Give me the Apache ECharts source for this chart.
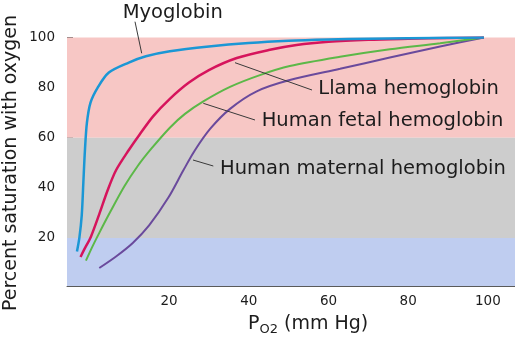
<!DOCTYPE html>
<html>
<head>
<meta charset="utf-8">
<script src="https://cdn.jsdelivr.net/npm/echarts@6/dist/echarts.min.js"></script>
<style>
  html, body { margin: 0; padding: 0; background: #ffffff; }
  #chart { width: 515px; height: 342px; }
</style>
</head>
<body>
<div id="chart"></div>
<script>
// Oxygen dissociation curves: [PO2 (mm Hg), percent saturation]
const xTickValues = [20, 40, 60, 80, 100];
const yTickValues = [20, 40, 60, 80, 100];

const myoglobin = [
  [-3.1, 14.6], [-2.5, 20], [-1.9, 29], [-1.5, 42], [-1.1, 55], [-0.6, 66],
  [0.3, 74], [2.1, 80], [4.9, 86], [9.9, 90], [14.2, 92.5], [20.2, 94.5],
  [30, 96.4], [40, 97.8], [50, 98.7], [60, 99.2], [70, 99.5], [80, 99.7],
  [90, 99.9], [99, 100]
];
const llama = [
  [-2.2, 12.4], [-1.3, 15.3], [0.4, 20.5], [2.5, 29.5], [4.6, 39], [6.7, 47],
  [10, 55.3], [12.5, 61], [16, 68.5], [20.2, 75.5], [25, 82], [30, 87],
  [37, 91.8], [45, 95], [52, 97], [60, 98.3], [70, 99.1], [80, 99.5],
  [90, 99.8], [99, 100]
];
const fetal = [
  [-0.85, 10.9], [0.8, 16.6], [2.5, 22], [5.4, 30.8], [8.8, 40.6], [12.1, 48.6],
  [15.5, 55.5], [20.2, 64], [24, 69.5], [28.6, 74.5], [35.3, 80.3], [42.8, 85],
  [50.3, 88.6], [62.9, 92.3], [75.4, 95.3], [88, 97.7], [99, 100]
];
const maternal = [
  [2.5, 8], [6.7, 12.6], [10.9, 18], [15, 25], [19.8, 36], [23.6, 47],
  [26.5, 55], [30.3, 63.5], [35.3, 71.5], [42, 78.5], [50.3, 83], [62.9, 87.5],
  [75.4, 92], [88, 96.4], [99, 100]
];

// Saturation bands shaded behind the curves
const bands = [
  { from: 60, to: 100, color: '#f7c7c5' },
  { from: 20, to: 60, color: '#cdcdcd' },
  { from: 0.8, to: 20, color: '#bfcdf0' }
];

const FONT = '"DejaVu Sans", sans-serif';
const INK = '#1c1c1c';
const LEADER = '#3a3a3a';
const LABEL_FONT = '19.5px ' + FONT;

const chart = echarts.init(document.getElementById('chart'), null, { renderer: 'canvas' });

function curve(name, data, color, width, z) {
  return {
    name, type: 'line', data, z,
    symbol: 'none', smooth: 0.3,
    lineStyle: { color, width },
    silent: true, animation: false
  };
}

function label(text, x, y) {
  return {
    type: 'text', x, y, z: 100,
    style: { text, font: LABEL_FONT, fill: INK, textVerticalAlign: 'middle' }
  };
}

function leader(x1, y1, x2, y2) {
  return {
    type: 'line', shape: { x1, y1, x2, y2 }, z: 100,
    style: { stroke: LEADER, lineWidth: 1 }
  };
}

const option = {
  animation: false,
  backgroundColor: '#ffffff',
  grid: { left: 67, right: 0, top: 37.5, bottom: 56, containLabel: false },
  xAxis: {
    type: 'value', min: -5.6, max: 106.8,
    axisLine: { show: true, onZero: false, lineStyle: { color: '#5a5a5a', width: 1 } },
    axisTick: { show: true, inside: true, length: 5, customValues: xTickValues,
                lineStyle: { color: '#777' } },
    axisLabel: { customValues: xTickValues, color: INK, fontFamily: FONT, fontSize: 13.5, margin: 8 },
    splitLine: { show: true, lineStyle: { color: '#ffffff', width: 1 } }
  },
  yAxis: {
    type: 'value', min: 0.8, max: 100,
    axisLine: { show: true, onZero: false, lineStyle: { color: '#8a8a8a', width: 1 } },
    axisTick: { show: true, inside: true, length: 6, customValues: yTickValues,
                lineStyle: { color: '#555' } },
    axisLabel: { customValues: yTickValues, color: INK, fontFamily: FONT, fontSize: 13.5, margin: 12 },
    splitLine: { show: true, lineStyle: { color: '#ffffff', width: 1 } }
  },
  series: [
    {
      type: 'line', data: [], silent: true, z: 0,
      markArea: {
        silent: true,
        label: { show: false },
        data: bands.map(b => [
          { yAxis: b.from, itemStyle: { color: b.color } },
          { yAxis: b.to }
        ])
      }
    },
    curve('Human maternal hemoglobin', maternal, '#6a4a9c', 2, 3),
    curve('Human fetal hemoglobin', fetal, '#5cb848', 2, 4),
    curve('Llama hemoglobin', llama, '#d6145c', 2.5, 5),
    curve('Myoglobin', myoglobin, '#1b97d5', 2.5, 6)
  ],
  graphic: [
    // axis titles
    {
      type: 'text', x: 11, y: 163, rotation: Math.PI / 2, z: 100,
      style: { text: 'Percent saturation with oxygen', font: '19px ' + FONT, fill: INK,
               textAlign: 'center', textVerticalAlign: 'middle' }
    },
    { type: 'text', x: 248, y: 324, z: 100,
      style: { text: 'P', font: '19px ' + FONT, fill: INK, textVerticalAlign: 'middle' } },
    { type: 'text', x: 259.5, y: 330, z: 100,
      style: { text: 'O2', font: '13px ' + FONT, fill: INK, textVerticalAlign: 'middle' } },
    { type: 'text', x: 284, y: 324, z: 100,
      style: { text: '(mm Hg)', font: '19px ' + FONT, fill: INK, textVerticalAlign: 'middle' } },
    // curve labels
    label('Myoglobin', 122.7, 12.5),
    label('Llama hemoglobin', 318.3, 89),
    label('Human fetal hemoglobin', 261.7, 120.5),
    label('Human maternal hemoglobin', 220, 168.5),
    // leader lines
    leader(135, 21.7, 141.7, 53.3),
    leader(235, 62.7, 312, 90),
    leader(203.3, 103.3, 255, 120),
    leader(193, 160, 213.3, 166)
  ]
};

chart.setOption(option);
</script>
</body>
</html>
